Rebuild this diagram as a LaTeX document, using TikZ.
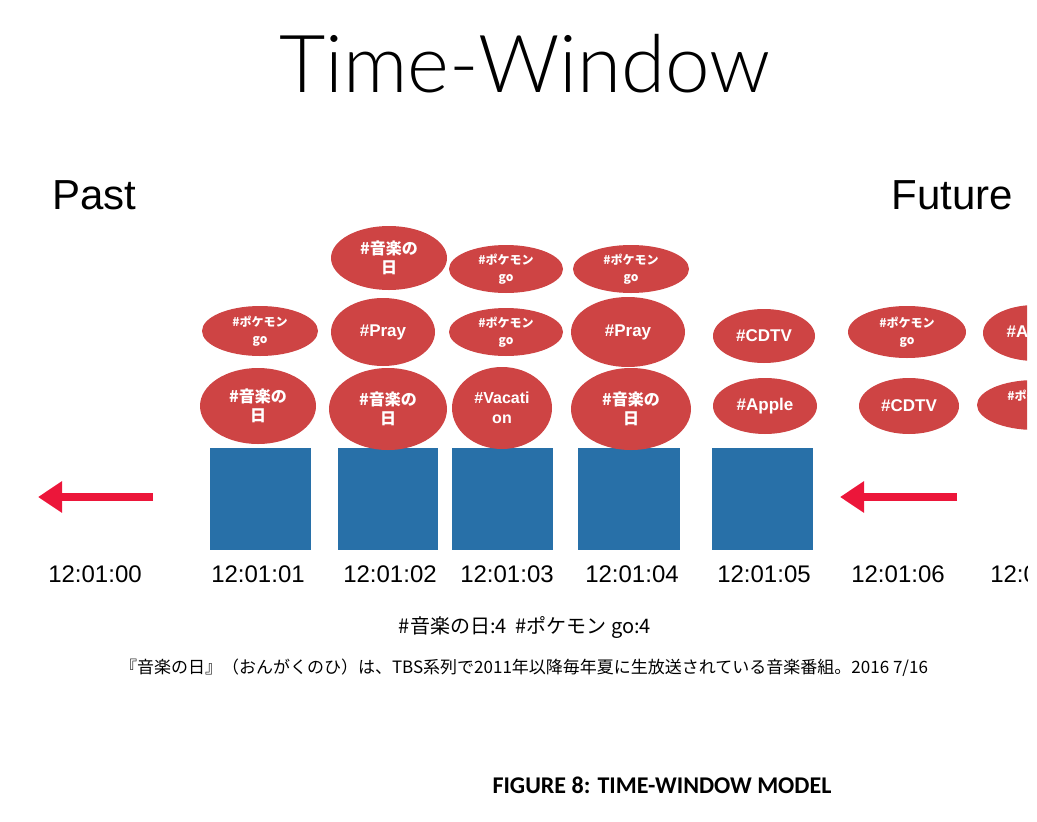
\documentclass[tikz,border=0pt]{standalone}
\usepackage{fontspec}
\setmainfont{Liberation Sans}
\newfontfamily\jp{Noto Sans CJK JP}
\newfontfamily\capfont{Carlito}
\IfFontExistsTF{Lato Light}{\newfontfamily\thinfont{Lato Light}}{\newfontfamily\thinfont{Liberation Sans}}
\usetikzlibrary{shapes.geometric,arrows.meta}
\definecolor{tagred}{RGB}{206,68,68}
\definecolor{boxblue}{RGB}{40,112,168}
\definecolor{arrowred}{RGB}{236,22,58}
\begin{document}
\begin{tikzpicture}[x=1pt,y=-1pt,
 tag/.style={ellipse,fill=tagred,text=white,inner sep=0pt,align=center},
 bigtag/.style={tag,font=\jp\bfseries\fontsize{16}{19}\selectfont},
 smalltag/.style={tag,font=\jp\bfseries\fontsize{12}{17}\selectfont},
 entag/.style={tag,font=\bfseries\fontsize{17}{20}\selectfont},
 win/.style={rectangle,fill=boxblue,inner sep=0pt,minimum height=102pt},
 stamp/.style={anchor=base,font=\fontsize{24}{24}\selectfont},
 flow/.style={arrowred,line width=8pt,-{Triangle[length=24pt,width=30pt]}}]
\useasboundingbox (0,0) rectangle (1037,822);
% title and side labels
\node[anchor=base,font=\thinfont\fontsize{80}{80}\selectfont] (title) at (525,92) {Time-Window};
\node[anchor=base west,font=\fontsize{42}{42}\selectfont,inner sep=0pt] (past) at (52,209) {Past};
\node[anchor=base east,font=\fontsize{42}{42}\selectfont,inner sep=0pt] (future) at (1013,209) {Future};
% windows
\node[win,minimum width=101pt] (sq1) at (260,499) {};
\node[win,minimum width=100pt] (sq2) at (388,499) {};
\node[win,minimum width=101pt] (sq3) at (502.5,499) {};
\node[win,minimum width=102pt] (sq4) at (629,499) {};
\node[win,minimum width=101pt] (sq5) at (762.5,499) {};
% tags
\node[bigtag,minimum width=116pt,minimum height=76pt] (c1a) at (258,406) {\#音楽の\\日};
\node[smalltag,minimum width=116pt,minimum height=50pt] (c1b) at (260,331) {\#ポケモン\\go};
\node[bigtag,minimum width=118pt,minimum height=82pt] (c2a) at (388,409) {\#音楽の\\日};
\node[entag,minimum width=104pt,minimum height=68pt] (c2b) at (383,332) {\#Pray};
\node[bigtag,minimum width=116pt,minimum height=64pt] (c2c) at (389,258) {\#音楽の\\日};
\node[entag,font=\bfseries\fontsize{16}{20}\selectfont,minimum width=100pt,minimum height=82pt] (c3a) at (502,408) {\#Vacati\\on};
\node[smalltag,minimum width=114pt,minimum height=48pt] (c3b) at (506,332) {\#ポケモン\\go};
\node[smalltag,minimum width=114pt,minimum height=48pt] (c3c) at (506,269) {\#ポケモン\\go};
\node[bigtag,minimum width=120pt,minimum height=82pt] (c4a) at (631,409) {\#音楽の\\日};
\node[entag,minimum width=114pt,minimum height=70pt] (c4b) at (628,332) {\#Pray};
\node[smalltag,minimum width=116pt,minimum height=48pt] (c4c) at (631,269) {\#ポケモン\\go};
\node[entag,minimum width=104pt,minimum height=56pt] (c5a) at (765,406) {\#Apple};
\node[entag,minimum width=102pt,minimum height=54pt] (c5b) at (764,336) {\#CDTV};
\node[entag,minimum width=100pt,minimum height=56pt] (c6a) at (909,406) {\#CDTV};
\node[smalltag,minimum width=118pt,minimum height=52pt] (c6b) at (907,332) {\#ポケモン\\go};
\begin{scope}
\clip (0,0) rectangle (1027,822);
\node[smalltag,minimum width=116pt,minimum height=50pt] (c7a) at (1035,405) {\#ポケモン\\go};
\node[entag,minimum width=104pt,minimum height=56pt] (c7b) at (1035,333) {\#Apple};
\node[stamp] (t7) at (1037,582) {12:01:07};
\end{scope}
% arrows
\coordinate (la1) at (153,497);
\coordinate (la2) at (38,497);
\coordinate (ra1) at (957,497);
\coordinate (ra2) at (840,497);
\draw[flow] (la1) -- (la2);
\draw[flow] (ra1) -- (ra2);
% time stamps
\node[stamp] (t0) at (95,582) {12:01:00};
\node[stamp] (t1) at (258,582) {12:01:01};
\node[stamp] (t2) at (390,582) {12:01:02};
\node[stamp] (t3) at (507,582) {12:01:03};
\node[stamp] (t4) at (632,582) {12:01:04};
\node[stamp] (t5) at (764,582) {12:01:05};
\node[stamp] (t6) at (898,582) {12:01:06};
% counts and notes
\node[anchor=base,font=\jp\fontsize{20}{20}\selectfont] (count) at (525,633) {\#音楽の日:4 \ \#ポケモン go:4};
\node[anchor=base,font=\jp\fontsize{17}{17}\selectfont] (note) at (524,673) {『音楽の日』（おんがくのひ）は、TBS系列で2011年以降毎年夏に生放送されている音楽番組。2016 7/16};
\node[anchor=base,font=\capfont\bfseries\fontsize{24}{24}\selectfont] (cap) at (662,793) {FIGURE 8: TIME-WINDOW MODEL};
\end{tikzpicture}
\end{document}
